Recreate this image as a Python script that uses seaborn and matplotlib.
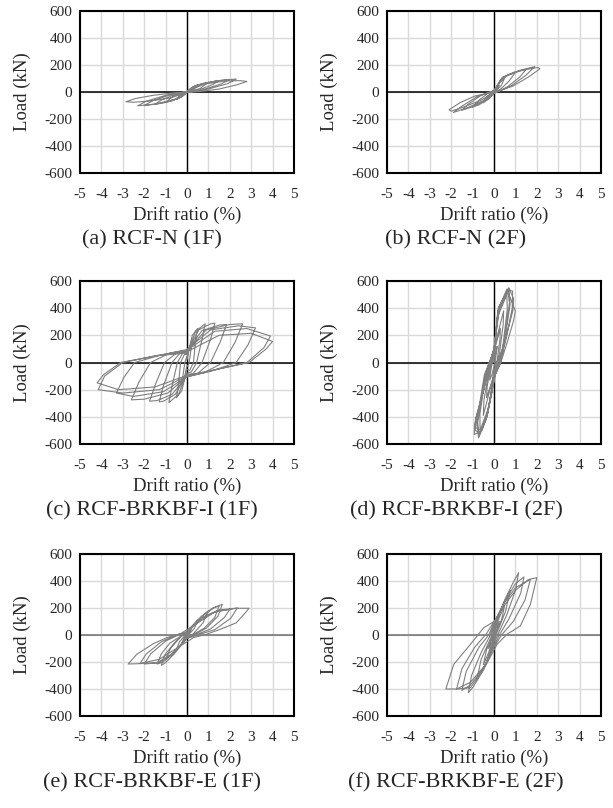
import matplotlib
matplotlib.use("Agg")
import matplotlib.pyplot as plt
import seaborn as sns

# ======================================================
# Hysteresis data (drift ratio %, load kN)
# ======================================================

# (a) RCF-N (1F)
drift_a = [
    0.0, 0.12, 0.25, 0.15, 0.0, -0.12, -0.25, -0.15,
    0.0, 0.2, 0.5, 0.3, 0.0, -0.2, -0.5, -0.3,
    0.0, 0.3, 0.7, 1.0, 0.6, 0.0, -0.3, -0.7, -1.0, -0.6,
    0.0, 0.4, 1.0, 1.5, 1.2, 0.6, 0.0, -0.4, -1.0, -1.5, -1.2, -0.6,
    0.0, 0.5, 1.3, 2.0, 1.6, 0.8, 0.0, -0.5, -1.3, -2.0, -1.6, -0.8,
    0.0, 0.6, 1.5, 2.3, 1.9, 1.0, 0.0, -0.6, -1.5, -2.3, -1.9, -1.0,
    0.0, 0.8, 1.8, 2.5, 2.8, 2.3, 1.5, 0.6, 0.0, -0.8, -1.8, -2.5, -2.85, -2.4, -1.6, -0.6, 0.0,
]
load_a = [
    0, 20, 35, 12, 0, -20, -35, -12,
    0, 30, 55, 18, 0, -30, -55, -18,
    0, 40, 62, 72, 25, 0, -40, -65, -76, -26,
    2, 45, 72, 84, 55, 18, -2, -48, -78, -90, -60, -20,
    2, 50, 80, 93, 60, 20, -2, -52, -86, -100, -65, -22,
    3, 55, 85, 96, 62, 22, -3, -56, -90, -102, -68, -25,
    3, 58, 82, 84, 78, 52, 22, 4, -4, -45, -68, -76, -72, -48, -25, -6, 0,
]

# (b) RCF-N (2F)
drift_b = [
    0.0, 0.12, 0.25, 0.15, 0.0, -0.12, -0.25, -0.15,
    0.0, 0.2, 0.5, 0.35, 0.1, 0.0, -0.2, -0.5, -0.35, -0.1,
    0.0, 0.3, 0.7, 1.0, 0.7, 0.3, 0.0, -0.3, -0.7, -1.0, -0.7, -0.3,
    0.0, 0.35, 0.9, 1.5, 1.2, 0.6, 0.0, -0.4, -1.0, -1.5, -1.2, -0.6,
    0.0, 0.4, 1.2, 1.9, 1.5, 0.8, 0.0, -0.5, -1.3, -1.9, -1.5, -0.8,
    0.0, 0.5, 1.3, 2.05, 2.15, 1.6, 0.9, 0.0, -0.6, -1.4, -2.0, -2.1, -1.6, -0.9, 0.0,
]
load_b = [
    0, 30, 50, 20, 0, -25, -45, -15,
    5, 60, 105, 50, 8, -5, -45, -80, -35, -5,
    5, 85, 130, 145, 80, 20, -5, -55, -95, -112, -60, -12,
    8, 100, 145, 168, 110, 35, -8, -60, -110, -135, -90, -25,
    10, 110, 160, 188, 125, 45, -10, -65, -120, -152, -105, -35,
    10, 115, 160, 182, 172, 110, 45, -5, -60, -110, -142, -132, -80, -30, 0,
]

# (c) RCF-BRKBF-I (1F)
drift_c = [
    0.0, 0.12, 0.25, 0.2, 0.1, 0.04, 0.0, -0.12, -0.25, -0.2, -0.1, -0.04,
    0.0, 0.25, 0.5, 0.42, 0.3, 0.12, 0.0, -0.25, -0.5, -0.42, -0.3, -0.12,
    0.0, 0.4, 0.85, 0.7, 0.45, 0.2, 0.0, -0.4, -0.85, -0.7, -0.45, -0.2,
    0.0, 0.55, 1.1, 1.3, 1.1, 0.7, 0.3, 0.0, -0.55, -1.1, -1.3, -1.1, -0.7, -0.3,
    0.0, 0.7, 1.5, 1.85, 1.55, 1.1, 0.5, 0.0, -0.7, -1.4, -1.75, -1.45, -1.05, -0.45,
    0.0, 0.9, 2.0, 2.6, 2.25, 1.7, 0.8, 0.0, -0.9, -2.0, -2.6, -2.25, -1.7, -0.8,
    0.0, 1.1, 2.4, 3.2, 2.85, 2.3, 1.1, 0.0, -1.1, -2.5, -3.3, -2.95, -2.45, -1.1,
    0.0, 1.3, 2.8, 3.9, 3.6, 2.8, 1.3, 0.0, -1.3, -3.0, -4.15, -3.85, -3.0, -1.3,
    0.0, 1.5, 3.0, 4.0, 3.7, 2.9, 1.4, 0.0, -1.5, -3.2, -4.2, -3.9, -3.1, -1.4, 0.0,
]
load_c = [
    20, 110, 150, 110, 0, -30, -20, -110, -150, -110, 0, 30,
    40, 200, 250, 190, 0, -60, -50, -210, -260, -195, 0, 60,
    60, 230, 285, 170, 0, -70, -80, -235, -295, -175, 0, 70,
    75, 240, 285, 290, 170, 0, -80, -90, -235, -285, -290, -170, 0, 75,
    85, 235, 275, 280, 150, 0, -80, -100, -235, -280, -285, -150, 0, 75,
    90, 240, 280, 285, 150, 0, -75, -105, -225, -270, -275, -145, 0, 70,
    95, 240, 270, 255, 130, 0, -65, -105, -215, -250, -225, -110, 0, 60,
    90, 230, 250, 195, 110, 0, -55, -100, -200, -225, -200, -100, 0, 55,
    80, 200, 215, 155, 100, 0, -50, -95, -180, -200, -150, -90, 0, 50, 70,
]

# (d) RCF-BRKBF-I (2F)
drift_d = [
    0.0, 0.08, 0.15, 0.12, 0.05, -0.02, -0.1, -0.2, -0.17, -0.08,
    0.0, 0.05, 0.3, 0.28, 0.15, 0.0, -0.08, -0.35, -0.32, -0.15,
    0.0, 0.08, 0.45, 0.43, 0.25, 0.02, -0.12, -0.5, -0.47, -0.22,
    0.0, 0.15, 0.6, 0.62, 0.4, 0.0, -0.25, -0.65, -0.66, -0.35,
    0.0, 0.2, 0.69, 0.75, 0.5, 0.05, -0.33, -0.72, -0.8, -0.45,
    0.0, 0.18, 0.65, 0.72, 0.48, 0.05, -0.3, -0.7, -0.76, -0.42,
    0.0, 0.22, 0.6, 0.87, 0.85, 0.6, 0.3, 0.0, -0.1, -0.33, -0.56, -0.92, -0.9, -0.48, -0.2,
    0.0, 0.24, 0.7, 0.92, 0.88, 0.55, 0.25, 0.0, -0.1, -0.4, -0.65, -0.88, -0.86, -0.45, -0.18,
    0.0, 0.25, 0.65, 1.0, 0.9, 0.62, 0.3, 0.0, -0.12, -0.35, -0.6, -0.85, -0.83, -0.48, -0.2, 0.0,
]
load_d = [
    0, 70, 120, 80, 0, -40, -90, -130, -80, 0,
    30, 110, 250, 170, 20, -60, -130, -260, -180, -20,
    50, 150, 380, 280, 60, -80, -160, -390, -280, -40,
    70, 330, 500, 390, 100, -90, -330, -500, -380, -60,
    90, 400, 550, 430, 150, -100, -400, -555, -430, -90,
    85, 380, 530, 440, 160, -95, -380, -540, -440, -100,
    100, 400, 540, 525, 400, 200, 0, -100, -200, -400, -500, -530, -450, -200, 0,
    100, 410, 545, 470, 380, 180, -20, -110, -220, -430, -520, -500, -420, -180, 10,
    100, 390, 520, 378, 300, 150, -10, -110, -210, -400, -500, -480, -400, -200, 0, 100,
]

# (e) RCF-BRKBF-E (1F)
drift_e = [
    0.0, 0.12, 0.25, 0.15, 0.0, -0.12, -0.25, -0.15,
    0.0, 0.25, 0.5, 0.35, 0.0, -0.25, -0.5, -0.35,
    0.0, 0.5, 1.0, 0.75, 0.3, 0.0, -0.5, -1.0, -0.75, -0.3,
    0.0, 0.7, 1.2, 1.5, 1.3, 0.8, 0.3, 0.0, -0.6, -1.1, -1.4, -1.2, -0.8, -0.3,
    0.0, 0.7, 1.3, 1.65, 1.45, 0.9, 0.3, 0.0, -0.6, -1.0, -1.2, -1.05, -0.6, -0.2,
    0.0, 0.7, 1.4, 2.0, 1.75, 1.1, 0.4, 0.0, -0.6, -1.3, -2.0, -1.7, -1.0, -0.4,
    0.0, 0.8, 1.5, 2.35, 2.05, 1.3, 0.5, 0.0, -0.7, -1.4, -2.2, -1.9, -1.2, -0.5,
    -0.3, 0.5, 1.3, 2.3, 2.9, 2.7, 2.3, 1.55, 0.9, 0.3, -0.5, -1.3, -2.2, -2.75, -2.35, -1.57, -0.95, -0.3,
]
load_e = [
    5, 35, 60, 25, -5, -35, -60, -25,
    10, 70, 110, 50, -10, -70, -110, -50,
    15, 110, 180, 90, 10, -15, -110, -180, -95, -15,
    20, 140, 200, 215, 130, 50, 5, -20, -130, -200, -215, -140, -60, -10,
    25, 140, 205, 228, 140, 50, 0, -25, -140, -205, -225, -150, -60, 0,
    25, 130, 180, 190, 130, 45, 0, -25, -130, -205, -215, -140, -45, 0,
    25, 130, 185, 200, 125, 40, 0, -25, -140, -205, -212, -140, -50, 0,
    10, 90, 170, 198, 198, 160, 90, 42, 5, -20, -100, -180, -212, -215, -143, -64, -20, 10,
]

# (f) RCF-BRKBF-E (2F)
drift_f = [
    0.0, 0.12, 0.25, 0.15, 0.0, -0.12, -0.25, -0.15,
    0.0, 0.25, 0.5, 0.35, 0.05, 0.0, -0.25, -0.5, -0.35, -0.05,
    0.0, 0.35, 0.75, 0.55, 0.15, 0.0, -0.35, -0.8, -0.6, -0.15,
    0.0, 0.5, 0.9, 1.15, 1.0, 0.6, 0.2, 0.0, -0.5, -0.95, -1.2, -1.05, -0.6, -0.2,
    0.0, 0.5, 1.0, 1.4, 1.25, 0.7, 0.25, 0.0, -0.5, -1.1, -1.5, -1.3, -0.7, -0.25,
    0.0, 0.45, 1.0, 1.7, 1.45, 0.9, 0.35, 0.0, -0.45, -1.1, -1.75, -1.5, -0.9, -0.35,
    0.0, 0.4, 1.0, 1.6, 2.0, 1.7, 1.23, 0.6, 0.14, -0.5, -1.1, -1.7, -2.25, -1.88, -1.1, -0.48, 0.0,
]
load_f = [
    10, 60, 100, 40, -10, -60, -100, -40,
    20, 130, 220, 110, 10, -20, -130, -220, -110, -10,
    40, 200, 330, 180, 20, -40, -200, -330, -180, -20,
    60, 260, 390, 462, 330, 150, 10, -60, -260, -380, -427, -300, -130, -10,
    80, 250, 380, 430, 310, 120, 0, -80, -250, -370, -410, -270, -90, 0,
    90, 230, 350, 412, 260, 100, 0, -90, -230, -350, -400, -250, -90, 10,
    100, 200, 330, 410, 425, 227, 67, 5, -70, -260, -390, -400, -400, -217, -69, 54, 100,
]

captions = [
    "(a) RCF-N (1F)", "(b) RCF-N (2F)",
    "(c) RCF-BRKBF-I (1F)", "(d) RCF-BRKBF-I (2F)",
    "(e) RCF-BRKBF-E (1F)", "(f) RCF-BRKBF-E (2F)",
]
x_ticks = [-5, -4, -3, -2, -1, 0, 1, 2, 3, 4, 5]
y_ticks = [-600, -400, -200, 0, 200, 400, 600]

# ======================================================
# Style
# ======================================================

sns.set_style("white")
plt.rcParams["font.family"] = ["Liberation Serif", "DejaVu Serif"]
plt.rcParams["axes.unicode_minus"] = False

W, H = 613, 808
fig = plt.figure(figsize=(W / 100, H / 100), dpi=100)

# axes boxes in pixels: left, top, width, height
boxes = [
    (80, 11, 214, 162), (387, 11, 214, 162),
    (80, 281, 214, 163), (387, 281, 214, 163),
    (80, 554, 214, 162), (387, 554, 214, 162),
]
caption_x = [152, 456, 152, 456, 152, 456]
series = [
    (drift_a, load_a), (drift_b, load_b), (drift_c, load_c),
    (drift_d, load_d), (drift_e, load_e), (drift_f, load_f),
]

for i, ((drift, load), (l, t, w, h)) in enumerate(zip(series, boxes)):
    ax = fig.add_axes([l / W, 1 - (t + h) / H, w / W, h / H])

    ax.set_xlim(-5, 5)
    ax.set_ylim(-600, 600)
    ax.set_xticks(x_ticks)
    ax.set_yticks(y_ticks)
    ax.grid(True, color="#d9d9d9", linewidth=1.0)
    ax.set_axisbelow(True)

    hcolor = "#6e6e6e" if i >= 4 else "black"
    ax.axhline(0, color=hcolor, linewidth=1.1, zorder=1.5)
    ax.axvline(0, color="black", linewidth=1.0, zorder=1.5)

    sns.lineplot(x=drift, y=load, sort=False, estimator=None,
                 color="#808080", linewidth=0.8, ax=ax, zorder=3)

    for s in ax.spines.values():
        s.set_color("black")
        s.set_linewidth(1.5)

    ax.tick_params(axis="both", length=0, labelsize=11)
    ax.tick_params(axis="x", pad=10.5)
    ax.tick_params(axis="y", pad=5.5)
    ax.set_xlabel("")
    ax.set_ylabel("")

    fig.text((l - 58) / W, 1 - (t + h / 2) / H, "Load (kN)", rotation=90,
             ha="center", va="center", fontsize=13.5)
    fig.text((l + w / 2) / W, 1 - (t + h + 42) / H, "Drift ratio (%)",
             ha="center", va="center", fontsize=13.5)
    fig.text(caption_x[i] / W, 1 - (t + h + 67) / H, captions[i],
             ha="center", va="center", fontsize=16)

fig.savefig("out.png", dpi=100)
